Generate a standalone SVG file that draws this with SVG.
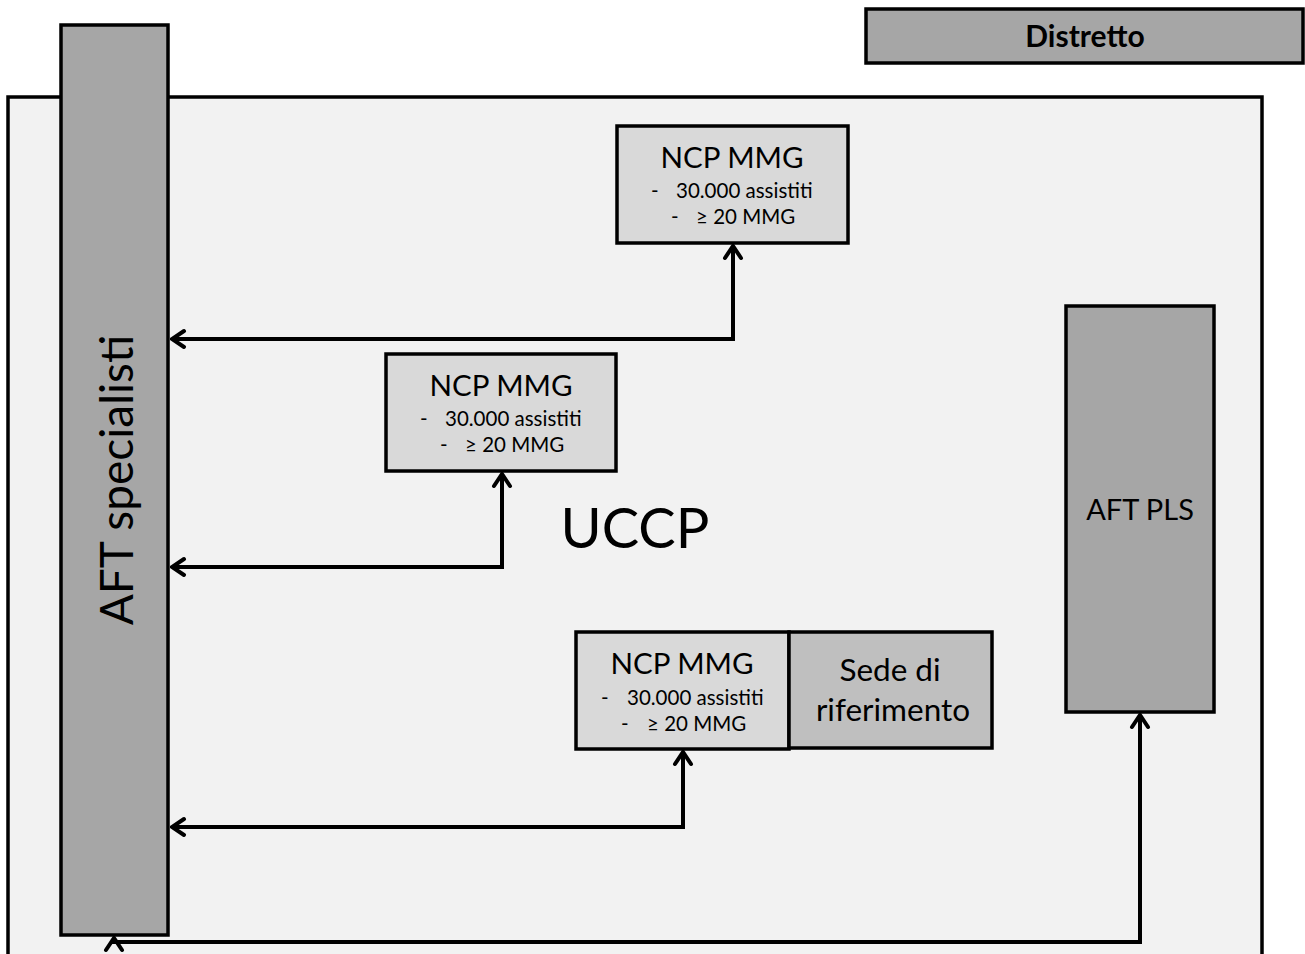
<svg xmlns="http://www.w3.org/2000/svg" width="1305" height="954" viewBox="0 0 1305 954">
<style>
.box{stroke:#000;stroke-width:3.5}
.dark{fill:#a6a6a6}
.mid{fill:#bfbfbf}
.light{fill:#d9d9d9}
text{font-family:Lato,"Open Sans","Liberation Sans",sans-serif;fill:#000}
.t{font-size:29.5px;text-anchor:middle}
.s{font-size:20.5px}
.c{fill:none;stroke:#000;stroke-width:4;stroke-linejoin:miter}
</style>
<defs>
<marker id="ah" viewBox="-16 -12 18 24" markerWidth="18" markerHeight="24" refX="0" refY="0" orient="auto-start-reverse" markerUnits="userSpaceOnUse">
<path d="M -12 -8 L 0 0 L -12 8" fill="none" stroke="#000" stroke-width="4" stroke-linecap="round" stroke-linejoin="miter"/>
</marker>
</defs>
<rect width="1305" height="954" fill="#fff"/>
<g id="uccp">
<rect class="box" x="8" y="97" width="1254" height="870" fill="#f2f2f2"/>
<text x="635" y="548" font-size="56" text-anchor="middle">UCCP</text>
</g>
<g id="distretto">
<rect class="box dark" x="866" y="9" width="437" height="54"/>
<text x="1085" y="47" font-size="30" font-weight="bold" text-anchor="middle">Distretto</text>
</g>
<g id="aft-specialisti">
<rect class="box dark" x="61" y="25" width="107" height="910"/>
<text transform="translate(133,480) rotate(-90)" font-size="46" text-anchor="middle">AFT specialisti</text>
</g>
<g id="aft-pls">
<rect class="box dark" x="1066" y="306" width="148" height="406"/>
<text x="1140" y="520" font-size="29" text-anchor="middle">AFT PLS</text>
</g>
<g id="ncp1">
<rect class="box light" x="617" y="126" width="231" height="117"/>
<text class="t" x="732" y="168">NCP MMG</text>
<text class="s" x="651" y="198">-</text><text class="s" x="676" y="198">30.000 assistiti</text>
<text class="s" x="671" y="224">-</text><text class="s" x="696" y="224">≥ 20 MMG</text>
</g>
<g id="ncp2">
<rect class="box light" x="386" y="354" width="230" height="117"/>
<text class="t" x="501" y="396">NCP MMG</text>
<text class="s" x="420" y="426">-</text><text class="s" x="445" y="426">30.000 assistiti</text>
<text class="s" x="440" y="452">-</text><text class="s" x="465" y="452">≥ 20 MMG</text>
</g>
<g id="ncp3">
<rect class="box light" x="576" y="632" width="213" height="117"/>
<text class="t" x="682" y="674">NCP MMG</text>
<text class="s" x="601" y="705">-</text><text class="s" x="627" y="705">30.000 assistiti</text>
<text class="s" x="621" y="731">-</text><text class="s" x="647" y="731">≥ 20 MMG</text>
</g>
<g id="sede">
<rect class="box mid" x="789" y="632" width="203" height="116"/>
<text x="890" y="681" font-size="31.5" text-anchor="middle">Sede di</text>
<text x="893" y="721" font-size="31.5" text-anchor="middle">riferimento</text>
</g>
<g id="connectors">
<path class="c" d="M 733 246 L 733 339 L 172 339" marker-start="url(#ah)" marker-end="url(#ah)"/>
<path class="c" d="M 502 474 L 502 567 L 172 567" marker-start="url(#ah)" marker-end="url(#ah)"/>
<path class="c" d="M 683 752 L 683 827 L 172 827" marker-start="url(#ah)" marker-end="url(#ah)"/>
<path class="c" d="M 1140 715 L 1140 942 L 114 942 L 114 938" marker-start="url(#ah)" marker-end="url(#ah)"/>
</g>
</svg>
